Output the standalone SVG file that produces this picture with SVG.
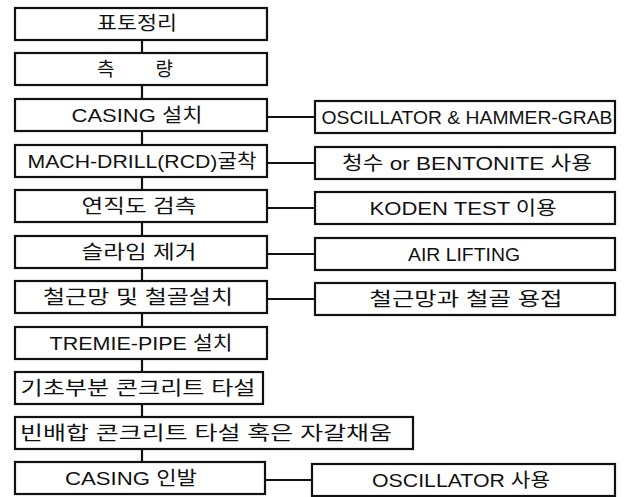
<svg xmlns="http://www.w3.org/2000/svg" width="627" height="497" viewBox="0 0 627 497">
<style>
rect{fill:#fff;stroke:#111;stroke-width:2.2}
.c line{stroke:#111;stroke-width:2.2}
text{font-family:"Liberation Sans","Noto Sans CJK KR",sans-serif;font-size:19px;fill:#111;text-anchor:middle}
</style>
<rect x="0" y="0" width="627" height="497" style="stroke:none"/>
<g class="c" id="connectors">
<line x1="142" y1="40" x2="142" y2="53"/>
<line x1="142" y1="85" x2="142" y2="99"/>
<line x1="142" y1="131" x2="142" y2="145"/>
<line x1="142" y1="177" x2="142" y2="190"/>
<line x1="142" y1="222" x2="142" y2="236"/>
<line x1="142" y1="268" x2="142" y2="281"/>
<line x1="142" y1="313" x2="142" y2="327"/>
<line x1="142" y1="359" x2="142" y2="372"/>
<line x1="142" y1="404" x2="142" y2="417"/>
<line x1="142" y1="449" x2="142" y2="462"/>
<line x1="267" y1="117" x2="315" y2="117"/>
<line x1="267" y1="163" x2="315" y2="163"/>
<line x1="267" y1="208" x2="315" y2="208"/>
<line x1="267" y1="254" x2="315" y2="254"/>
<line x1="267" y1="299" x2="315" y2="299"/>
<line x1="265" y1="480" x2="312" y2="480"/>
</g>
<g id="n1"><rect x="15" y="8" width="252" height="32"/><text x="137" y="30" textLength="80" lengthAdjust="spacingAndGlyphs">표토정리</text></g>
<g id="n2"><rect x="15" y="53" width="252" height="32"/><text x="135" y="76" textLength="76" lengthAdjust="spacing">측 량</text></g>
<g id="n3"><rect x="15" y="99" width="252" height="32"/><text x="137" y="122" textLength="131" lengthAdjust="spacingAndGlyphs">CASING 설치</text></g>
<g id="n4"><rect x="15" y="145" width="252" height="32"/><text x="142" y="168" textLength="229" lengthAdjust="spacingAndGlyphs">MACH-DRILL(RCD)굴착</text></g>
<g id="n5"><rect x="15" y="190" width="252" height="32"/><text x="139" y="213" textLength="115" lengthAdjust="spacingAndGlyphs">연직도 검측</text></g>
<g id="n6"><rect x="15" y="236" width="252" height="32"/><text x="139" y="259" textLength="115" lengthAdjust="spacingAndGlyphs">슬라임 제거</text></g>
<g id="n7"><rect x="15" y="281" width="252" height="32"/><text x="138" y="304" textLength="190" lengthAdjust="spacingAndGlyphs">철근망 및 철골설치</text></g>
<g id="n8"><rect x="15" y="327" width="252" height="32"/><text x="141" y="350" textLength="183" lengthAdjust="spacingAndGlyphs">TREMIE-PIPE 설치</text></g>
<g id="n9"><rect x="15" y="372" width="248" height="32"/><text x="138" y="395" textLength="235" lengthAdjust="spacingAndGlyphs">기초부분 콘크리트 타설</text></g>
<g id="n10"><rect x="15" y="417" width="398" height="32"/><text x="206" y="440" textLength="372" lengthAdjust="spacingAndGlyphs">빈배합 콘크리트 타설 혹은 자갈채움</text></g>
<g id="n11"><rect x="15" y="462" width="250" height="32"/><text x="131" y="485" textLength="132" lengthAdjust="spacingAndGlyphs">CASING 인발</text></g>
<g id="r1"><rect x="315" y="101" width="300" height="32"/><text x="467" y="124" textLength="291" lengthAdjust="spacingAndGlyphs">OSCILLATOR &amp; HAMMER-GRAB</text></g>
<g id="r2"><rect x="315" y="147" width="300" height="32"/><text x="467" y="170" textLength="250" lengthAdjust="spacingAndGlyphs">청수 or BENTONITE 사용</text></g>
<g id="r3"><rect x="315" y="192" width="300" height="32"/><text x="463" y="215" textLength="187" lengthAdjust="spacingAndGlyphs">KODEN TEST 이용</text></g>
<g id="r4"><rect x="315" y="238" width="300" height="32"/><text x="464" y="261" textLength="112" lengthAdjust="spacingAndGlyphs">AIR LIFTING</text></g>
<g id="r5"><rect x="315" y="283" width="300" height="32"/><text x="466" y="306" textLength="193" lengthAdjust="spacingAndGlyphs">철근망과 철골 용접</text></g>
<g id="r6"><rect x="312" y="464" width="303" height="32"/><text x="461" y="487" textLength="178" lengthAdjust="spacingAndGlyphs">OSCILLATOR 사용</text></g>
</svg>
